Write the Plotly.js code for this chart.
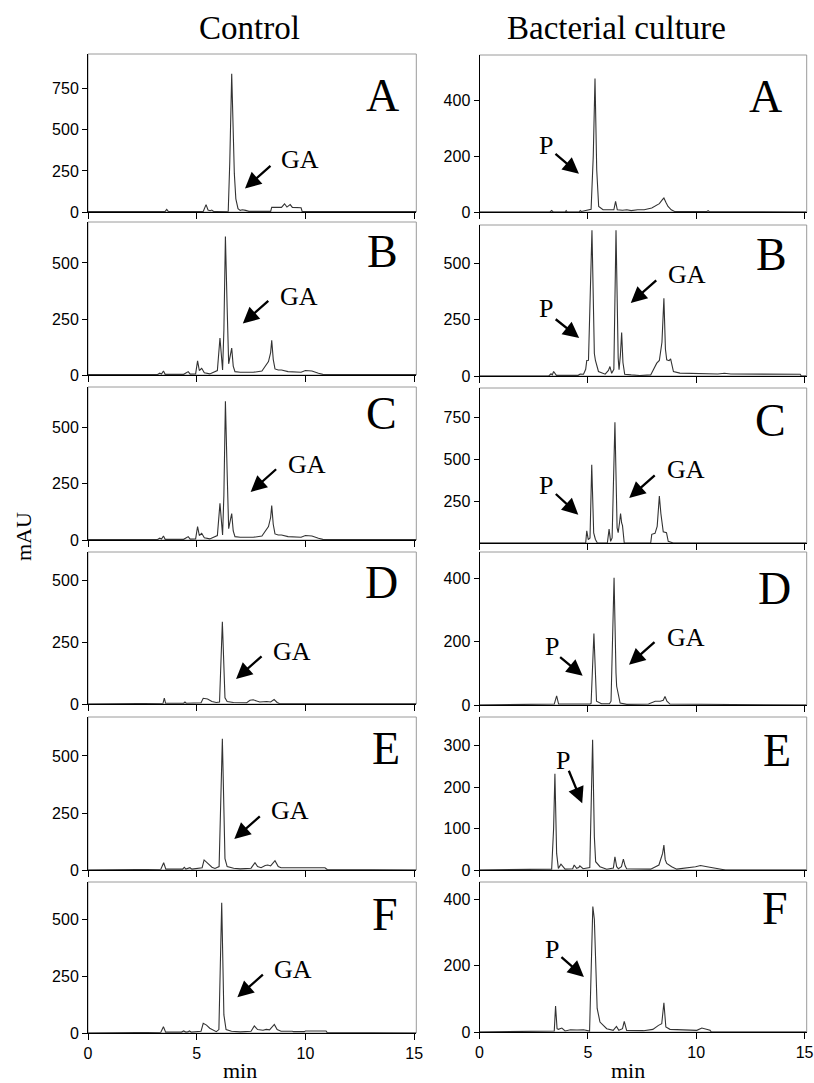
<!DOCTYPE html>
<html><head><meta charset="utf-8">
<script src="https://cdn.plot.ly/plotly-3.0.1.min.js"></script>
<style>html,body{margin:0;padding:0;background:#fff}</style>
</head><body><div id="chart" style="width:814px;height:1083px"></div>
<script>
// ---------- DATA (time in min, absorbance in mAU) ----------
const panelLetters = ["A","B","C","D","E","F"];
const columnTitles = ["Control","Bacterial culture"];

// Control column
const ctrlA_t = [0,3.4,3.55,3.62,3.7,5.3,5.43,5.52,5.62,5.69,5.78,6.45,6.52,6.61,6.68,6.73,6.8,6.9,7.0,7.1,7.25,7.4,8.4,8.45,8.9,9.04,9.15,9.3,9.4,9.8,9.85,15.1];
const ctrlA_y = [2,2,4,16,2,3,45,12,8,12,3,5,300,841,420,235,80,20,10,14,10,4,4,28,28,50,30,45,28,26,3,2];

const ctrlB_t = [0,3.2,3.3,3.38,3.47,3.55,4.4,4.55,4.61,4.7,4.95,5.04,5.12,5.23,5.35,5.6,5.95,6.07,6.19,6.25,6.32,6.4,6.47,6.55,6.61,6.68,6.76,7.0,7.6,8.0,8.3,8.4,8.45,8.52,8.6,8.75,8.9,9.2,9.5,9.8,10.0,10.3,10.6,10.8,15.1];
const ctrlB_y = [2,2,8,4,18,3,3,12,15,4,5,63,20,30,10,5,20,165,22,200,618,300,50,90,120,40,15,12,12,18,60,100,155,70,27,22,22,15,15,12,20,18,8,3,2];

const ctrlC_t = [0,3.2,3.3,3.38,3.47,3.55,4.4,4.55,4.61,4.7,4.95,5.04,5.12,5.23,5.35,5.6,5.95,6.07,6.19,6.25,6.32,6.4,6.47,6.55,6.61,6.68,6.76,7.0,7.6,8.0,8.3,8.4,8.45,8.52,8.6,8.75,8.9,9.2,9.5,9.8,10.0,10.3,10.6,10.8,15.1];
const ctrlC_y = [2,2,8,4,18,3,3,12,15,4,5,60,20,30,10,5,20,163,22,200,618,300,50,90,118,40,15,12,12,18,60,100,153,70,27,22,22,15,15,12,20,18,8,3,2];

const ctrlD_t = [0,3.0,3.45,3.51,3.57,4.4,4.46,4.52,5.2,5.3,5.5,5.7,5.9,6.05,6.18,6.3,6.4,6.69,7.3,7.45,7.6,7.76,7.9,8.22,8.4,8.56,8.7,8.8,15.1];
const ctrlD_y = [0,1,3,24,3,3,8,3,5,23,20,10,6,8,332,25,10,6,5,15,17,12,8,10,8,18,6,2,1];

const ctrlE_t = [0,2.95,3.35,3.48,3.58,4.35,4.43,4.5,4.62,4.69,4.78,5.25,5.34,5.53,5.7,5.84,6.03,6.18,6.3,6.4,6.7,7.0,7.5,7.68,7.8,7.96,8.15,8.27,8.4,8.6,8.75,8.88,9.4,9.5,9.95,10.0,10.9,11.0,15.1];
const ctrlE_y = [0,2,3,32,4,4,12,4,6,10,4,10,44,26,12,7,15,576,50,15,8,5,8,32,15,10,20,22,18,41,15,10,10,8,8,10,10,2,0];

const ctrlF_t = [0,2.95,3.35,3.47,3.57,4.3,4.4,4.5,4.6,4.66,4.75,5.2,5.3,5.45,5.6,5.9,6.02,6.15,6.25,6.35,6.6,7.0,7.5,7.65,7.8,8.05,8.2,8.35,8.57,8.7,8.88,9.4,9.45,9.95,10.0,10.95,11.0,15.1];
const ctrlF_y = [0,2,3,28,4,4,9,4,5,9,4,8,43,35,21,6,15,575,80,15,8,5,8,31,15,12,16,14,38,15,8,8,6,6,9,9,2,0];

// Bacterial culture column
const bactA_t = [0,3.25,3.33,3.4,3.95,4.0,4.05,4.6,4.65,4.7,5.15,5.25,5.33,5.41,5.5,5.7,6.2,6.28,6.36,6.6,6.8,7.0,7.3,7.6,7.95,8.3,8.45,8.51,8.6,8.7,8.85,9.0,10.5,10.55,10.6,15.1];
const bactA_y = [0,0,5,0,0,5,0,0,5,2,10,200,478,150,20,8,8,38,8,6,8,5,8,8,14,30,45,50,35,20,8,2,2,5,2,0];

const bactB_t = [0,3.2,3.3,3.36,3.42,3.49,3.55,4.55,4.65,4.8,4.9,4.95,5.03,5.19,5.3,5.35,5.49,5.8,5.95,6.02,6.1,6.2,6.3,6.4,6.44,6.5,6.56,6.62,6.7,7.0,7.4,7.9,8.1,8.18,8.3,8.42,8.51,8.58,8.64,8.75,8.82,8.9,8.95,9.25,11.0,11.3,11.6,14.8,14.85,15.1];
const bactB_y = [0,0,10,5,20,10,3,3,9,8,30,69,70,649,100,69,20,8,25,42,12,30,649,80,28,90,193,60,8,5,2,5,40,57,69,150,346,120,72,68,76,40,20,13,9,12,9,8,0,0];

const bactC_t = [0,4.9,4.95,5.02,5.1,5.18,5.27,5.35,5.44,5.9,5.98,6.05,6.12,6.25,6.35,6.4,6.46,6.51,6.56,6.6,6.68,7.9,7.95,8.1,8.2,8.3,8.37,8.43,8.48,8.63,8.71,8.94,15.1];
const bactC_y = [0,0,73,20,30,469,60,21,0,0,83,10,30,723,90,62,120,177,120,104,0,0,52,58,100,281,177,100,67,62,10,0,0];

const bactD_t = [0,3.0,3.45,3.56,3.65,5.1,5.15,5.28,5.4,5.63,6.0,6.07,6.21,6.3,6.33,6.49,6.8,7.8,8.11,8.34,8.48,8.56,8.65,8.79,15.1];
const bactD_y = [0,1,3,29,3,3,5,225,12,4,4,12,401,100,59,6,2,3,12,12,15,27,12,3,0];

const bactE_t = [0,2.95,3.33,3.42,3.48,3.56,3.64,3.76,3.95,4.3,4.37,4.48,4.58,4.63,4.78,5.09,5.15,5.22,5.3,5.36,5.56,5.87,6.18,6.25,6.33,6.41,6.55,6.64,6.72,6.79,7.9,8.28,8.45,8.51,8.57,8.64,8.87,9.1,9.97,10.2,10.5,11.3,11.35,15.1];
const bactE_y = [0,2,2,100,232,40,4,14,2,3,12,4,6,10,3,6,150,314,80,20,8,2,5,32,8,3,8,26,10,3,2,12,40,60,25,16,8,2,8,11,8,2,0,0];

const bactF_t = [0,3.02,3.45,3.51,3.58,3.64,3.8,3.95,4.2,4.5,4.8,5.08,5.16,5.23,5.3,5.36,5.43,5.56,5.87,6.17,6.32,6.43,6.6,6.68,6.79,7.57,8.0,8.26,8.41,8.51,8.6,8.79,10.03,10.26,10.64,10.7,15.1];
const bactF_y = [0,2,3,78,10,8,12,3,7,6,7,3,200,378,340,180,71,30,10,5,17,5,10,32,5,4,8,20,25,88,15,8,5,12,5,0,0];

// y-axis tick values per panel
const ctrlTicks = [[0,250,500,750],[0,250,500],[0,250,500],[0,250,500],[0,250,500],[0,250,500]];
const bactTicks = [[0,200,400],[0,250,500],[250,500,750],[0,200,400],[0,100,200,300],[0,200,400]];
const xTicks = [0,5,10,15];

// y-axis maxima per panel
const ctrlYmax = [962,683,681,614,671,667];
const bactYmax = [562,672,929,482,369,452];
const xMax = 15.1;

// annotation label positions (data coords) : [x, y]
const ctrlGA = [[9.75,317],[9.7,349],[10.09,334],[9.4,212],[9.29,259],[9.44,280]];
const ctrlGAhead = [[7.22,143],[7.12,230],[7.48,214],[6.81,101],[6.73,136],[6.87,158]];
const ctrlLetter = [[13.55,709],[13.55,550],[13.48,564],[13.51,490],[13.69,534],[13.66,522]];
const bactP = [[3.07,237],[3.07,299],[3.07,343],[3.33,184],[3.87,265],[3.33,250]];
const bactPhead = [[4.59,137],[4.6,169],[4.56,170],[4.76,92],[4.74,161],[4.82,166]];
const bactPtail = [[-25,-21],[-25,-20],[-24,-22],[-24,-20],[-14,-34],[-24,-21]];
const bactGA = [null,[9.56,451],[9.51,439],[9.51,212],null,null];
const bactGAhead = [null,[6.98,325],[6.91,270],[6.9,127],null,null];
const bactLetter = [[13.22,415],[13.48,540],[13.45,735],[13.6,367],[13.71,289],[13.63,373]];

// ---------- LAYOUT (pixel boxes) ----------
const W = 814, H = 1083;
const colX = [[88,416.3],[479.5,806.7]];
const rowY = [
  [[54,212],[222,375],[387,540],[552,704],[717,870],[882,1033]],
  [[55,212],[225,376],[388,543],[552,705],[717,870],[882,1032]]
];

const series = [
  [[ctrlA_t,ctrlA_y],[ctrlB_t,ctrlB_y],[ctrlC_t,ctrlC_y],[ctrlD_t,ctrlD_y],[ctrlE_t,ctrlE_y],[ctrlF_t,ctrlF_y]],
  [[bactA_t,bactA_y],[bactB_t,bactB_y],[bactC_t,bactC_y],[bactD_t,bactD_y],[bactE_t,bactE_y],[bactF_t,bactF_y]]
];
const yTicksAll = [ctrlTicks, bactTicks];
const yMaxAll = [ctrlYmax, bactYmax];

const serif = "Liberation Serif, Times New Roman, serif";
const sans = "Liberation Sans, Arial, sans-serif";

const data = [];
const layout = {
  width: W, height: H, margin: {l:0,r:0,t:0,b:0},
  paper_bgcolor: "#fff", plot_bgcolor: "#fff",
  showlegend: false, annotations: [], shapes: []
};

function arrowAnn(xr, yr, head, ax, ay) {
  return {xref: xr, yref: yr, x: head[0], y: head[1], text: "", showarrow: true,
    ax: ax, ay: ay, arrowhead: 2, arrowsize: 1.4, arrowwidth: 2.3, arrowcolor: "#000", standoff: 0};
}
function textAnn(xr, yr, pos, txt, size) {
  return {xref: xr, yref: yr, x: pos[0], y: pos[1], text: txt, showarrow: false,
    font: {family: serif, size: size, color: "#000"}, xanchor: "center", yanchor: "middle"};
}

for (let c = 0; c < 2; c++) {
  for (let r = 0; r < 6; r++) {
    const idx = c*6 + r + 1;
    const xn = idx === 1 ? "xaxis" : "xaxis" + idx;
    const yn = idx === 1 ? "yaxis" : "yaxis" + idx;
    const xr = idx === 1 ? "x" : "x" + idx;
    const yr = idx === 1 ? "y" : "y" + idx;
    const [ts, ys] = series[c][r];
    data.push({type: "scatter", mode: "lines", x: ts, y: ys, xaxis: xr, yaxis: yr,
      line: {color: "#333", width: 1.1}, hoverinfo: "skip"});
    const box = rowY[c][r];
    layout[xn] = {
      domain: [colX[c][0]/W, colX[c][1]/W], anchor: yr, range: [0, xMax],
      tickvals: xTicks, ticktext: xTicks.map(String), ticks: "outside", ticklen: 6, tickcolor: "#000", tickwidth: 1,
      showline: true, linecolor: "#000", linewidth: 1, showgrid: false, zeroline: false,
      showticklabels: r === 5, tickfont: {family: sans, size: 16, color: "#000"}, fixedrange: true
    };
    layout[yn] = {
      domain: [1 - box[1]/H, 1 - box[0]/H], anchor: xr, range: [0, yMaxAll[c][r]],
      tickvals: yTicksAll[c][r], ticks: "outside", ticklen: 5, tickcolor: "#000", tickwidth: 1,
      showline: true, linecolor: "#000", linewidth: 1, showgrid: false, zeroline: false,
      tickfont: {family: sans, size: 16, color: "#000"}, fixedrange: true
    };
    layout.shapes.push({type: "rect", xref: xr + " domain", yref: yr + " domain", x0: 0, x1: 1, y0: 0, y1: 1,
      line: {color: "#9a9a9a", width: 1}, layer: "below"});
    if (c === 0) {
      layout.annotations.push(textAnn(xr, yr, ctrlGA[r], "GA", 26));
      layout.annotations.push(arrowAnn(xr, yr, ctrlGAhead[r], 27, -24));
      layout.annotations.push(textAnn(xr, yr, ctrlLetter[r], panelLetters[r], 46));
    } else {
      layout.annotations.push(textAnn(xr, yr, bactP[r], "P", 26));
      layout.annotations.push(arrowAnn(xr, yr, bactPhead[r], bactPtail[r][0], bactPtail[r][1]));
      if (bactGA[r]) {
        layout.annotations.push(textAnn(xr, yr, bactGA[r], "GA", 26));
        layout.annotations.push(arrowAnn(xr, yr, bactGAhead[r], 27, -24));
      }
      layout.annotations.push(textAnn(xr, yr, bactLetter[r], panelLetters[r], 46));
    }
  }
}

// column titles and axis titles
layout.annotations.push({xref: "paper", yref: "paper", x: 249/W, y: 1 - 28/H, text: columnTitles[0], showarrow: false,
  font: {family: serif, size: 33, color: "#000"}, xanchor: "center", yanchor: "middle"});
layout.annotations.push({xref: "paper", yref: "paper", x: 616/W, y: 1 - 28/H, text: columnTitles[1], showarrow: false,
  font: {family: serif, size: 33, color: "#000"}, xanchor: "center", yanchor: "middle"});
layout.annotations.push({xref: "paper", yref: "paper", x: 24/W, y: 1 - 537/H, text: "mAU", showarrow: false, textangle: -90,
  font: {family: serif, size: 22, color: "#000"}, xanchor: "center", yanchor: "middle"});
layout.annotations.push({xref: "paper", yref: "paper", x: 240/W, y: 1 - 1070/H, text: "min", showarrow: false,
  font: {family: serif, size: 22, color: "#000"}, xanchor: "center", yanchor: "middle"});
layout.annotations.push({xref: "paper", yref: "paper", x: 628/W, y: 1 - 1070/H, text: "min", showarrow: false,
  font: {family: serif, size: 22, color: "#000"}, xanchor: "center", yanchor: "middle"});

Plotly.newPlot("chart", data, layout, {staticPlot: true});
</script></body></html>
